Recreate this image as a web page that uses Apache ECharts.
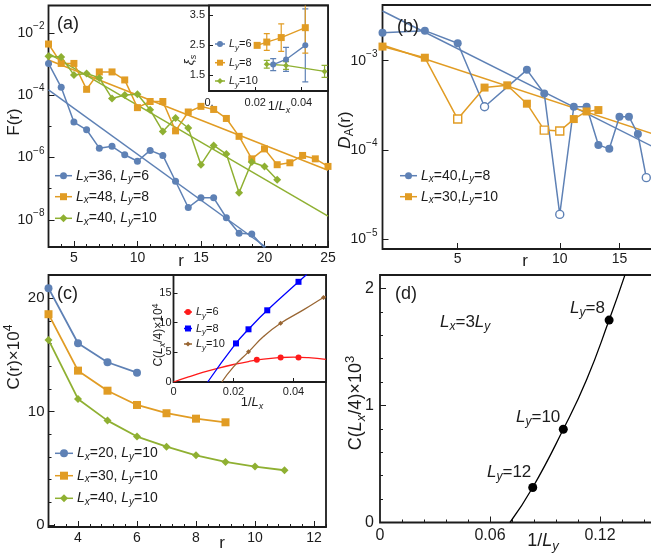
<!DOCTYPE html>
<html>
<head>
<meta charset="utf-8">
<script src="https://cdn.jsdelivr.net/npm/echarts@6.0.0/dist/echarts.min.js"></script>
<style>
html,body{margin:0;padding:0;background:#fff;}
#chart{width:651px;height:555px;}
</style>
</head>
<body>
<div id="chart"></div>
<script>
const FONT = '"Liberation Sans", Arial, Helvetica, sans-serif';
const INK = '#1c1c1c';
const BLUE = '#5E81B5', ORANGE = '#E19C24', GREEN = '#8FB032';
const RED = '#FF1A1A', PBLUE = '#0000FF', BROWN = '#996633';

// ---------------- (a) F(r), log scale ----------------
const rA = [3,4,5,6,7,8,9,10,11,12,13,14,15,16,17,18,19,20,21,22,23,24,25];
const F_Lx36_Ly6 = [1.05e-3,1.8e-4,1.38e-5,7.8e-6,2.0e-6,2.3e-6,1.23e-6,7.6e-7,1.7e-6,1.17e-6,1.74e-7,2.5e-8,5.1e-8,5.1e-8,1.17e-8,3.7e-9,3.5e-9,1.26e-9];
const F_Lx48_Ly8 = [4.4e-3,1.05e-3,1.05e-3,1.55e-4,5.6e-4,5.6e-4,3.1e-4,4.0e-5,6.3e-5,6.3e-5,7.2e-6,2.9e-5,4.4e-5,3.5e-5,1.8e-5,4.8e-6,9.1e-7,1.9e-6,5.9e-7,6.8e-7,1.17e-6,9.1e-7,5.2e-7];
const F_Lx40_Ly10 = [1.8e-3,1.7e-3,4.5e-4,5.0e-4,3.6e-4,7.9e-5,1.02e-4,1.07e-4,3.4e-5,6.9e-6,1.86e-5,8.9e-6,5.9e-7,2.45e-6,1.29e-6,7.4e-8,7.2e-7,5.2e-7,1.95e-7];
const fitA_Lx36_r = [3, 20.1], fitA_Lx36_F = [1.48e-4, 1.35e-9];
const fitA_Lx48_r = [3, 25],   fitA_Lx48_F = [1.35e-3, 3.9e-7];
const fitA_Lx40_r = [3, 25],   fitA_Lx40_F = [2.2e-3, 1.32e-8];

// (a) inset: xi_s vs 1/Lx
const LxA_Ly6 = [36, 30, 24],     xiA_Ly6 = [1.86, 2.03, 2.5],        xiErrA_Ly6 = [0.2, 0.4, 1.22];
const LxA_Ly8 = [48, 40, 32, 24], xiA_Ly8 = [2.5, 2.61, 2.76, 3.09],  xiErrA_Ly8 = [0.07, 0.28, 0.46, 0.85];
const LxA_Ly10 = [40, 30, 20],    xiA_Ly10 = [1.87, 1.83, 1.63],      xiErrA_Ly10 = [0.13, 0.13, 0.2];

// ---------------- (b) D_A(r), log-log (negative value = open marker) ----------------
const rB_Lx40_Ly8 = [3,4,5,6,8,9,10,11,12,13,14,15,16,17,18];
const DA_Lx40_Ly8 = [2.06e-3,2.17e-3,1.57e-3,-3.05e-4,7.9e-4,4.3e-4,-1.9e-5,3.05e-4,3.05e-4,1.14e-4,1.03e-4,2.36e-4,2.36e-4,1.51e-4,-4.9e-5];
const rB_Lx30_Ly10 = [3,4,5,6,7,8,9,10,11,12,13];
const DA_Lx30_Ly10 = [1.44e-3,1.08e-3,-2.22e-4,5.0e-4,5.3e-4,3.3e-4,-1.67e-4,-1.63e-4,2.22e-4,2.7e-4,2.8e-4];
const fitB_r = [3, 19];
const fitB_Lx40_Ly8 = [3.6e-3, 1.07e-4];
const fitB_Lx30_Ly10 = [1.5e-3, 1.5e-4];

// ---------------- (c) C(r) x 10^4 ----------------
const rC = [3,4,5,6,7,8,9,10,11];
const C_Lx20_Ly10 = [20.9, 16.04, 14.36, 13.44];
const C_Lx30_Ly10 = [18.6, 13.62, 11.85, 10.59, 9.86, 9.38, 9.06];
const C_Lx40_Ly10 = [16.33, 11.12, 9.21, 7.8, 6.91, 6.15, 5.56, 5.15, 4.83];

// (c) inset: C(Lx/4) x 10^4 vs 1/Lx
const LxC_Ly6 = [36, 28, 24],     CqC_Ly6 = [3.75, 4.14, 4.14];
const LxC_Ly8 = [48, 40, 32, 24], CqC_Ly8 = [6.5, 8.88, 12.08, 16.88];
const LxC_Ly10 = [40, 28, 20],    CqC_Ly10 = [5.08, 9.9, 14.24];
const fitC_Ly6_x = [0, 0.005, 0.01, 0.015, 0.02, 0.025, 0.03, 0.035, 0.04, 0.045, 0.0508];
const fitC_Ly6_y = [0, 0.85, 1.65, 2.35, 2.95, 3.45, 3.85, 4.1, 4.2, 4.1, 3.8];
const fitC_Ly8_x = [0.0114, 0.0208, 0.025, 0.03125, 0.0417, 0.0444];
const fitC_Ly8_y = [0, 6.5, 8.88, 12.08, 16.88, 18.1];
const fitC_Ly10_x = [0.0161, 0.02, 0.025, 0.03, 0.0357, 0.0433, 0.05, 0.0508];
const fitC_Ly10_y = [0, 2.55, 5.08, 7.65, 9.9, 12.15, 14.24, 14.42];

// ---------------- (d) C(Lx/4) x 10^3 vs 1/Ly ----------------
const LyD = [12, 10, 8];
const CqD = [0.299, 0.797, 1.73];
const fitD_x = [0.0709, 0.0833, 0.1, 0.1127, 0.125, 0.1336];
const fitD_y = [0, 0.299, 0.797, 1.22, 1.73, 2.114];

// ---------------- helpers ----------------
const log10 = Math.log10;
function richSet(fs) {
  const ss = Math.round(fs * 0.72);
  const pad = Math.round(fs * 0.6);
  const base = {fontFamily: FONT, color: INK, fill: INK};
  return {
    n:  Object.assign({fontSize: fs, lineHeight: fs + 2, verticalAlign: 'middle'}, base),
    i:  Object.assign({fontSize: fs, fontStyle: 'italic', lineHeight: fs + 2, verticalAlign: 'middle'}, base),
    sb: Object.assign({fontSize: ss, fontStyle: 'italic', lineHeight: ss, padding: [pad, 0, 0, 0], verticalAlign: 'middle'}, base),
    sn: Object.assign({fontSize: ss, lineHeight: ss, padding: [pad, 0, 0, 0], verticalAlign: 'middle'}, base),
    su: Object.assign({fontSize: ss, lineHeight: ss, padding: [0, 0, pad, 0], verticalAlign: 'middle'}, base)
  };
}
function richLog(fs) {
  return {
    b: {fontFamily: FONT, fontSize: fs, lineHeight: fs, verticalAlign: 'middle', color: INK},
    e: {fontFamily: FONT, fontSize: Math.round(fs * 0.72), lineHeight: Math.round(fs * 0.72), padding: [0, 0, Math.round(fs * 0.9), 0], verticalAlign: 'middle', color: INK}
  };
}
function logFmt(v) { return '{b|10}{e|' + (v < 0 ? '\u2212' : '') + Math.abs(Math.round(v)) + '}'; }

function gridOf(left, top, width, height, z, bg) {
  return {left, top, width, height, show: true, borderColor: INK, borderWidth: 1.8,
    backgroundColor: bg || 'transparent', z: z || 0, containLabel: false, outerBoundsMode: 'none'};
}
function axisOf(o) {
  return {
    type: 'value', gridIndex: o.grid, position: o.pos, min: o.min, max: o.max, z: o.z || 0,
    axisLine: {show: false, onZero: false},
    splitLine: {show: false},
    axisTick: {show: true, inside: true, length: o.tickLen || 5, customValues: o.ticks, lineStyle: {color: INK, width: 1}},
    axisLabel: o.labels ? {show: true, customValues: o.labels, formatter: o.fmt, margin: o.margin, color: INK,
      fontFamily: FONT, fontSize: o.fs || 14, rich: o.rich} : {show: false}
  };
}
function lineS(o) {
  return {
    type: 'line', name: o.name, xAxisIndex: o.ax, yAxisIndex: o.ax, data: o.data,
    symbol: o.symbol || 'none', symbolSize: o.size || 7, showSymbol: !!o.symbol,
    smooth: o.smooth || false, clip: true, silent: true, animation: false,
    lineStyle: {color: o.color, width: o.width || 1.5},
    itemStyle: {color: o.color}, emphasis: {disabled: true}, z: o.z || 2
  };
}
function errS(ax, Lx, xi, err, color) {
  return {
    type: 'custom', xAxisIndex: ax, yAxisIndex: ax, z: 5, clip: true, silent: true,
    encode: {x: 0, y: [1, 2]},
    data: Lx.map((L, i) => [1 / L, xi[i] - err[i], xi[i] + err[i]]),
    renderItem: function (params, api) {
      const x = api.value(0);
      const lo = api.coord([x, api.value(1)]);
      const hi = api.coord([x, api.value(2)]);
      const w = 3;
      const st = {stroke: color, lineWidth: 1.2};
      return {type: 'group', children: [
        {type: 'line', shape: {x1: lo[0], y1: lo[1], x2: hi[0], y2: hi[1]}, style: st},
        {type: 'line', shape: {x1: lo[0] - w, y1: lo[1], x2: lo[0] + w, y2: lo[1]}, style: st},
        {type: 'line', shape: {x1: hi[0] - w, y1: hi[1], x2: hi[0] + w, y2: hi[1]}, style: st}
      ]};
    }
  };
}
function dAData(rs, ds, color) {
  return ds.map((d, i) => d < 0
    ? {value: [log10(rs[i]), log10(-d)], itemStyle: {color: '#fff', borderColor: color, borderWidth: 1.4}}
    : [log10(rs[i]), log10(d)]);
}
function txt(x, y, text, rich, align, rot) {
  return {type: 'text', x: x, y: y, rotation: rot || 0, z: 30, silent: true,
    style: {text: text, rich: rich, align: align || 'left', verticalAlign: 'middle',
      textAlign: align || 'left', textVerticalAlign: 'middle', fill: INK, fontFamily: FONT}};
}
function legendEntry(x, y, color, sym, size, lineLen, text, rich) {
  const cx = x + lineLen / 2;
  const els = [{type: 'line', z: 30, silent: true, shape: {x1: x, y1: y, x2: x + lineLen, y2: y}, style: {stroke: color, lineWidth: 1.5}}];
  if (sym === 'circle') els.push({type: 'circle', z: 31, silent: true, shape: {cx: cx, cy: y, r: size / 2}, style: {fill: color}});
  else if (sym === 'rect') els.push({type: 'rect', z: 31, silent: true, shape: {x: cx - size / 2, y: y - size / 2, width: size, height: size}, style: {fill: color}});
  else els.push({type: 'polygon', z: 31, silent: true, shape: {points: [[cx, y - size / 2], [cx + size / 2, y], [cx, y + size / 2], [cx - size / 2, y]]}, style: {fill: color}});
  els.push(txt(x + lineLen + 4, y, text, rich, 'left'));
  return els;
}
function range(a, b, step, skip) {
  const out = [];
  for (let v = a; v <= b + 1e-9; v += step) {
    const r = Math.round(v * 1e6) / 1e6;
    if (!skip || !skip.some(s => Math.abs(s - r) < 1e-9)) out.push(r);
  }
  return out;
}

// ---------------- layout ----------------
const grids = [
  gridOf(48.5, 5.5, 279.5, 241.5, 0),            // 0 (a)
  gridOf(209, 5.5, 119, 85.5, 3, '#fff'),        // 1 (a) inset
  gridOf(382.5, 5, 272, 244, 0),                 // 2 (b)
  gridOf(48.5, 275, 277.5, 252, 0),              // 3 (c)
  gridOf(173.5, 275, 152.5, 107, 3, '#fff'),     // 4 (c) inset
  gridOf(380, 275, 274, 247.5, 0)                // 5 (d)
];
const xB_min = log10(3), xB_max = log10(3) + 272 / 339;
const fmtNum = v => (v === 0 ? '0' : v.toFixed(2));
const xAxes = [
  axisOf({grid: 0, pos: 'bottom', min: 3, max: 25, ticks: [5,10,15,20,25], labels: [5,10,15,20,25], margin: 4, fs: 14, tickLen: 6}),
  axisOf({grid: 1, pos: 'bottom', min: 0, max: 119 / 2311, z: 4, ticks: [0.02, 0.04], labels: [0, 0.02, 0.04], fmt: v => (v === 0 ? '0.' : v.toFixed(2)), margin: 6, fs: 11, tickLen: 4}),
  axisOf({grid: 2, pos: 'bottom', min: xB_min, max: xB_max, ticks: [log10(5), 1, log10(15)], labels: [log10(5), 1, log10(15)], fmt: v => String(Math.round(Math.pow(10, v))), margin: 3, fs: 14, tickLen: 6}),
  axisOf({grid: 3, pos: 'bottom', min: 3, max: 3 + 277.5 / 29.5, ticks: [4,6,8,10,12], labels: [4,6,8,10,12], margin: 4, fs: 14, tickLen: 6}),
  axisOf({grid: 4, pos: 'bottom', min: 0, max: 152.5 / 3000, z: 4, ticks: [0.02, 0.04], labels: [0, 0.02, 0.04], fmt: fmtNum, margin: 4, fs: 11, tickLen: 4}),
  axisOf({grid: 5, pos: 'bottom', min: 0, max: 274 / 1833, ticks: [0.06, 0.12], labels: [0, 0.06, 0.12], fmt: fmtNum, margin: 5, fs: 16, tickLen: 6}),
  // minor ticks
  axisOf({grid: 0, pos: 'bottom', min: 3, max: 25, ticks: range(3, 25, 1, [5,10,15,20,25]), tickLen: 3}),
  axisOf({grid: 3, pos: 'bottom', min: 3, max: 3 + 277.5 / 29.5, ticks: range(3.2, 12.4, 0.4, [4,6,8,10,12]), tickLen: 3}),
  axisOf({grid: 5, pos: 'bottom', min: 0, max: 274 / 1833, ticks: range(0.012, 0.144, 0.012, [0.06, 0.12]), tickLen: 3})
];
const yAxes = [
  axisOf({grid: 0, pos: 'left', min: -8.87, max: -1.12, ticks: [-8,-6,-4,-2], labels: [-8,-6,-4,-2], fmt: logFmt, rich: richLog(14), margin: 4, tickLen: 6}),
  axisOf({grid: 1, pos: 'left', min: 0.977, max: 3.83, z: 4, ticks: [1.5, 2.5, 3.5], labels: [1.5, 2.5, 3.5], fmt: v => v.toFixed(1), margin: 4, fs: 11, tickLen: 4}),
  axisOf({grid: 2, pos: 'left', min: -5.109, max: -2.376, ticks: [-5,-4,-3], labels: [-5,-4,-3], fmt: logFmt, rich: richLog(14), margin: 5, tickLen: 6}),
  axisOf({grid: 3, pos: 'left', min: -0.18, max: 22.06, ticks: [0,10,20], labels: [0,10,20], margin: 4, fs: 15, tickLen: 6}),
  axisOf({grid: 4, pos: 'left', min: 0, max: 107 / 5.935, z: 4, ticks: [5,10,15], labels: [0,5,10,15], margin: 2, fs: 11, tickLen: 4}),
  axisOf({grid: 5, pos: 'left', min: 0, max: 247.5 / 117, ticks: [1,2], labels: [0,1,2], margin: 6, fs: 16, tickLen: 6}),
  // minor ticks
  axisOf({grid: 0, pos: 'left', min: -8.87, max: -1.12, ticks: [-7,-5,-3], tickLen: 3}),
  axisOf({grid: 3, pos: 'left', min: -0.18, max: 22.06, ticks: [2,4,6,8,12,14,16,18], tickLen: 3}),
  axisOf({grid: 5, pos: 'left', min: 0, max: 247.5 / 117, ticks: range(0.2, 2.0, 0.2, [1]), tickLen: 3})
];

// ---------------- series ----------------
const toLog = (xs, ys) => ys.map((y, i) => [xs[i], log10(y)]);
const toXY = (xs, ys) => ys.map((y, i) => [xs[i], y]);
const inv = (Ls, ys) => ys.map((y, i) => [1 / Ls[i], y]);

const series = [
  // (a)
  lineS({ax: 0, data: toLog(fitA_Lx36_r, fitA_Lx36_F), color: BLUE}),
  lineS({ax: 0, data: toLog(fitA_Lx48_r, fitA_Lx48_F), color: ORANGE}),
  lineS({ax: 0, data: toLog(fitA_Lx40_r, fitA_Lx40_F), color: GREEN}),
  lineS({ax: 0, name: 'Lx=36, Ly=6', data: toLog(rA, F_Lx36_Ly6), color: BLUE, symbol: 'circle', size: 7}),
  lineS({ax: 0, name: 'Lx=48, Ly=8', data: toLog(rA, F_Lx48_Ly8), color: ORANGE, symbol: 'rect', size: 7}),
  lineS({ax: 0, name: 'Lx=40, Ly=10', data: toLog(rA, F_Lx40_Ly10), color: GREEN, symbol: 'diamond', size: 8}),
  // (a) inset
  errS(1, LxA_Ly6, xiA_Ly6, xiErrA_Ly6, BLUE),
  errS(1, LxA_Ly8, xiA_Ly8, xiErrA_Ly8, ORANGE),
  errS(1, LxA_Ly10, xiA_Ly10, xiErrA_Ly10, GREEN),
  lineS({ax: 1, name: 'xi Ly=6', data: inv(LxA_Ly6, xiA_Ly6), color: BLUE, symbol: 'circle', size: 6, z: 6, width: 1.3}),
  lineS({ax: 1, name: 'xi Ly=8', data: inv(LxA_Ly8, xiA_Ly8), color: ORANGE, symbol: 'rect', size: 7, z: 6, width: 1.3}),
  lineS({ax: 1, name: 'xi Ly=10', data: inv(LxA_Ly10, xiA_Ly10), color: GREEN, symbol: 'diamond', size: 6, z: 6, width: 1.3}),
  // (b)
  lineS({ax: 2, data: fitB_r.map((r, i) => [log10(r), log10(fitB_Lx40_Ly8[i])]), color: BLUE}),
  lineS({ax: 2, data: fitB_r.map((r, i) => [log10(r), log10(fitB_Lx30_Ly10[i])]), color: ORANGE}),
  lineS({ax: 2, name: 'DA Lx=40', data: dAData(rB_Lx40_Ly8, DA_Lx40_Ly8, BLUE), color: BLUE, symbol: 'circle', size: 8}),
  lineS({ax: 2, name: 'DA Lx=30', data: dAData(rB_Lx30_Ly10, DA_Lx30_Ly10, ORANGE), color: ORANGE, symbol: 'rect', size: 8}),
  // (c)
  lineS({ax: 3, name: 'C Lx=20', data: toXY(rC, C_Lx20_Ly10), color: BLUE, symbol: 'circle', size: 8, width: 1.8}),
  lineS({ax: 3, name: 'C Lx=30', data: toXY(rC, C_Lx30_Ly10), color: ORANGE, symbol: 'rect', size: 8, width: 1.8}),
  lineS({ax: 3, name: 'C Lx=40', data: toXY(rC, C_Lx40_Ly10), color: GREEN, symbol: 'diamond', size: 8, width: 1.8}),
  // (c) inset
  lineS({ax: 4, data: toXY(fitC_Ly6_x, fitC_Ly6_y), color: RED, smooth: true, z: 5, width: 1.3}),
  lineS({ax: 4, data: toXY(fitC_Ly8_x, fitC_Ly8_y), color: PBLUE, smooth: true, z: 5, width: 1.3}),
  lineS({ax: 4, data: toXY(fitC_Ly10_x, fitC_Ly10_y), color: BROWN, smooth: true, z: 5, width: 1.3}),
  Object.assign(lineS({ax: 4, name: 'Cq Ly=6', data: inv(LxC_Ly6, CqC_Ly6), color: RED, symbol: 'circle', size: 6, z: 6}), {lineStyle: {width: 0}}),
  Object.assign(lineS({ax: 4, name: 'Cq Ly=8', data: inv(LxC_Ly8, CqC_Ly8), color: PBLUE, symbol: 'rect', size: 6, z: 6}), {lineStyle: {width: 0}}),
  Object.assign(lineS({ax: 4, name: 'Cq Ly=10', data: inv(LxC_Ly10, CqC_Ly10), color: BROWN, symbol: 'diamond', size: 5, z: 6}), {lineStyle: {width: 0}}),
  // (d)
  lineS({ax: 5, data: toXY(fitD_x, fitD_y), color: '#000', smooth: true, width: 1.3}),
  Object.assign(lineS({ax: 5, name: 'Cq 3Ly', data: inv(LyD, CqD), color: '#000', symbol: 'circle', size: 9}), {lineStyle: {width: 0}})
];

// ---------------- text & legends ----------------
const R18 = richSet(18), R17 = richSet(17), R14 = richSet(14), R11 = richSet(11), R12 = richSet(12), R13 = richSet(13), R18b = richSet(18);
const PI2 = Math.PI / 2;
let els = [
  txt(57, 24, '{n|(a)}', R18), txt(397, 27, '{n|(b)}', R18), txt(57, 294, '{n|(c)}', R18), txt(395, 294, '{n|(d)}', R18),
  txt(14, 122, '{n|F(r)}', R17, 'center', PI2),
  txt(181, 261, '{n|r}', R17, 'center'),
  txt(345, 130, '{i|D}{sn|A}{n|(r)}', R17, 'center', PI2),
  txt(525, 261, '{n|r}', R17, 'center'),
  txt(14, 357, '{n|C(r)\u00d710}{su|4}', R17, 'center', PI2),
  txt(222, 543, '{n|r}', R17, 'center'),
  txt(356, 403, '{n|C(}{i|L}{sb|x}{n|/4)\u00d710}{su|3}', R18b, 'center', PI2),
  txt(543, 541, '{n|1/}{i|L}{sb|y}', R18b, 'center'),
  // (a) inset labels
  txt(189, 60, '{i|\u03be}{sb|s}', R13, 'center', PI2),
  txt(279, 106, '{n|1/}{i|L}{sb|x}', R13, 'center'),
  // (c) inset labels
  txt(159, 335, '{n|C(}{i|L}{sb|x}{n|/4)\u00d710}{su|4}', R12, 'center', PI2),
  txt(252, 402, '{n|1/}{i|L}{sb|x}', R13, 'center'),
  // (d) annotations
  txt(440, 322, '{i|L}{sb|x}{n|=3}{i|L}{sb|y}', R17),
  txt(570, 308, '{i|L}{sb|y}{n|=8}', R17),
  txt(516, 417, '{i|L}{sb|y}{n|=10}', R17),
  txt(487, 472, '{i|L}{sb|y}{n|=12}', R17)
];
els = els.concat(
  legendEntry(55, 175.7, BLUE, 'circle', 7, 17, '{i|L}{sb|x}{n|=36, }{i|L}{sb|y}{n|=6}', R14),
  legendEntry(55, 196.7, ORANGE, 'rect', 7, 17, '{i|L}{sb|x}{n|=48, }{i|L}{sb|y}{n|=8}', R14),
  legendEntry(55, 218.3, GREEN, 'diamond', 8, 17, '{i|L}{sb|x}{n|=40, }{i|L}{sb|y}{n|=10}', R14),
  legendEntry(215, 44, BLUE, 'circle', 6, 10, '{i|L}{sb|y}{n|=6}', R11),
  legendEntry(215, 62.7, ORANGE, 'rect', 6, 10, '{i|L}{sb|y}{n|=8}', R11),
  legendEntry(215, 81, GREEN, 'diamond', 6, 10, '{i|L}{sb|y}{n|=10}', R11),
  legendEntry(400, 175.7, BLUE, 'circle', 7, 17, '{i|L}{sb|x}{n|=40,}{i|L}{sb|y}{n|=8}', R14),
  legendEntry(400, 196.7, ORANGE, 'rect', 7, 17, '{i|L}{sb|x}{n|=30,}{i|L}{sb|y}{n|=10}', R14),
  legendEntry(55, 453.3, BLUE, 'circle', 8, 18, '{i|L}{sb|x}{n|=20, }{i|L}{sb|y}{n|=10}', R14),
  legendEntry(55, 475.7, ORANGE, 'rect', 8, 18, '{i|L}{sb|x}{n|=30, }{i|L}{sb|y}{n|=10}', R14),
  legendEntry(55, 498.3, GREEN, 'diamond', 8, 18, '{i|L}{sb|x}{n|=40, }{i|L}{sb|y}{n|=10}', R14),
  legendEntry(184, 312, RED, 'circle', 6, 8, '{i|L}{sb|y}{n|=6}', R11),
  legendEntry(184, 328.5, PBLUE, 'rect', 6, 8, '{i|L}{sb|y}{n|=8}', R11),
  legendEntry(184, 344, BROWN, 'diamond', 5, 8, '{i|L}{sb|y}{n|=10}', R11)
);

const chart = echarts.init(document.getElementById('chart'), null, {renderer: 'canvas'});
chart.setOption({
  animation: false,
  backgroundColor: '#fff',
  textStyle: {fontFamily: FONT},
  grid: grids,
  xAxis: xAxes,
  yAxis: yAxes,
  series: series,
  graphic: {elements: els}
});
</script>
</body>
</html>
